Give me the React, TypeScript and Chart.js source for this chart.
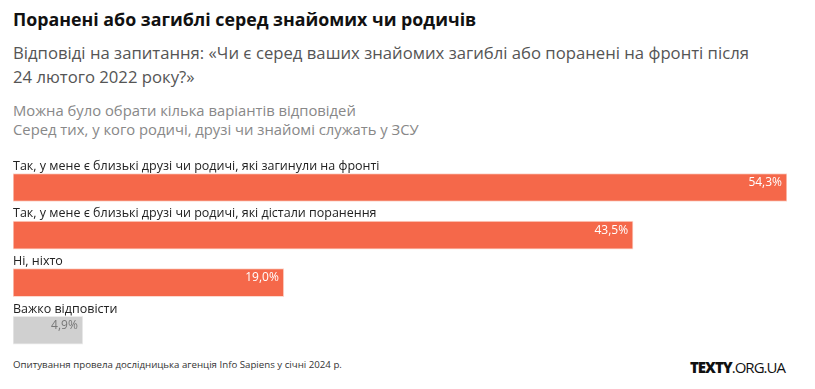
import React, { useEffect, useRef } from "react";
import { Chart, registerables } from "chart.js";

Chart.register(...registerables);

const FONT = "'Open Sans', 'Noto Sans', sans-serif";

const categories: string[] = [
  "Так, у мене є близькі друзі чи родичі, які загинули на фронті",
  "Так, у мене є близькі друзі чи родичі, які дістали поранення",
  "Ні, ніхто",
  "Важко відповісти",
];
const values: number[] = [54.3, 43.5, 19.0, 4.9];
const valueLabels: string[] = ["54,3%", "43,5%", "19,0%", "4,9%"];
const barColors: string[] = ["#f5684a", "#f5684a", "#f5684a", "#d0d0d0"];
const borderColors: string[] = ["#fcd9cf", "#fcd9cf", "#fcd9cf", "#ececec"];
const valueColors: string[] = ["#ffffff", "#ffffff", "#ffffff", "#777777"];

const labelPlugin = {
  id: "barLabels",
  afterDatasetsDraw(chart: any) {
    const ctx = chart.ctx;
    const meta = chart.getDatasetMeta(0);
    ctx.save();
    meta.data.forEach((bar: any, i: number) => {
      const top = bar.y - bar.height / 2;
      ctx.font = `12.5px ${FONT}`;
      ctx.fillStyle = "#222222";
      ctx.textAlign = "left";
      ctx.textBaseline = "bottom";
      ctx.fillText(categories[i], chart.chartArea.left, top - 1);
      ctx.font = `12px ${FONT}`;
      ctx.fillStyle = valueColors[i];
      ctx.textAlign = "right";
      ctx.textBaseline = "middle";
      ctx.fillText(valueLabels[i], bar.x - 5, bar.y - 5);
    });
    ctx.restore();
  },
};

function BarChart() {
  const ref = useRef<HTMLCanvasElement>(null);
  useEffect(() => {
    if (!ref.current) return;
    const chart = new Chart(ref.current, {
      type: "bar",
      data: {
        labels: categories,
        datasets: [
          {
            data: values,
            backgroundColor: barColors,
            borderColor: borderColors,
            borderWidth: 1,
            borderSkipped: false,
            barThickness: 28,
          },
        ],
      },
      options: {
        indexAxis: "y",
        animation: false,
        responsive: false,
        maintainAspectRatio: false,
        layout: { padding: { left: 13, right: 28, top: 13.75, bottom: 0 } },
        scales: {
          x: { display: false, min: 0, max: 54.3 },
          y: { display: false },
        },
        plugins: {
          legend: { display: false },
          tooltip: { enabled: false },
          title: { display: false },
        },
      },
      plugins: [labelPlugin],
    });
    return () => chart.destroy();
  }, []);
  return (
    <canvas
      ref={ref}
      width={815}
      height={204}
      style={{ position: "absolute", left: 0, top: 150, width: 815, height: 204 }}
    />
  );
}

export default function App() {
  useEffect(() => {
    document.body.style.margin = "0";
  }, []);
  return (
    <div
      style={{
        position: "relative",
        width: 815,
        height: 389,
        background: "#fff",
        fontFamily: FONT,
        overflow: "hidden",
      }}
    >
      <div
        style={{
          position: "absolute",
          left: 13,
          top: 7,
          fontSize: 17.8,
          fontWeight: 700,
          color: "#111",
          whiteSpace: "nowrap",
        }}
      >
        Поранені або загиблі серед знайомих чи родичів
      </div>
      <div
        style={{
          position: "absolute",
          left: 13,
          top: 41,
          fontSize: 16.7,
          lineHeight: "24px",
          color: "#555",
          whiteSpace: "nowrap",
        }}
      >
        Відповіді на запитання: «Чи є серед ваших знайомих загиблі або поранені на фронті після
        <br />
        24 лютого 2022 року?»
      </div>
      <div
        style={{
          position: "absolute",
          left: 13,
          top: 101,
          fontSize: 14.8,
          lineHeight: "19px",
          color: "#888",
          whiteSpace: "nowrap",
        }}
      >
        Можна було обрати кілька варіантів відповідей
        <br />
        Серед тих, у кого родичі, друзі чи знайомі служать у ЗСУ
      </div>
      <BarChart />
      <div
        style={{
          position: "absolute",
          left: 13,
          top: 358,
          fontSize: 9.7,
          color: "#333",
          whiteSpace: "nowrap",
        }}
      >
        Опитування провела дослідницька агенція Info Sapiens у січні 2024 р.
      </div>
      <div
        style={{
          position: "absolute",
          left: 690,
          top: 357,
          fontSize: 15,
          color: "#111",
          letterSpacing: -1,
          whiteSpace: "nowrap",
        }}
      >
        <span style={{ fontWeight: 800 }}>TEXTY</span>
        <span style={{ fontWeight: 400 }}>.ORG.UA</span>
      </div>
    </div>
  );
}
